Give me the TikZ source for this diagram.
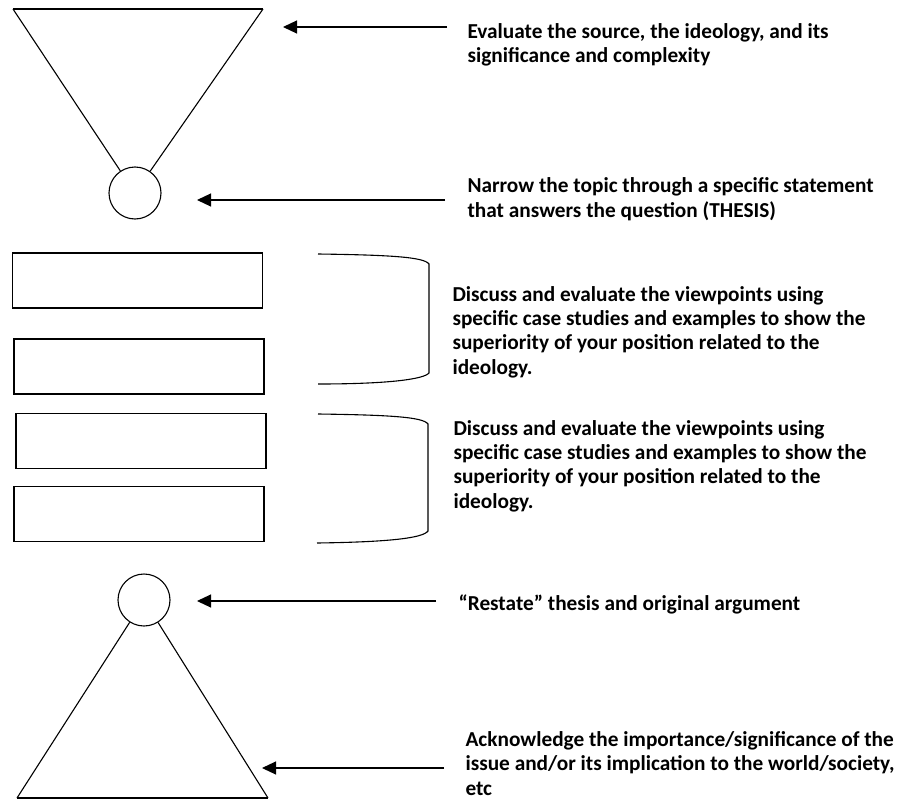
\documentclass[tikz,border=0pt]{standalone}
\usepackage{fontspec}
\setmainfont{Carlito}
\usetikzlibrary{arrows.meta,positioning}

\begin{document}
\begin{tikzpicture}[x=1pt, y=1pt, >={Triangle[length=14pt,width=13pt]}, line width=1.1pt,
  dot/.style={circle, draw, minimum size=52pt, inner sep=0pt},
  panel/.style={draw, minimum width=250pt, minimum height=55pt, inner sep=0pt},
  note/.style={anchor=base west, align=left, inner sep=0pt,
    font=\bfseries\fontsize{21.3}{24.3}\selectfont}]
  \useasboundingbox (0,0) rectangle (905,-800);

  % funnel at the top
  \node[dot] (top) at (135,-193) {};
  \coordinate (tl) at (13,-9);
  \coordinate (tr) at (263,-9);
  \draw (tl) -- (tr);
  \draw (tl) -- (top);
  \draw (tr) -- (top);

  % body paragraphs
  \node[panel] (p1) at (137.5,-280.5) {};
  \node[panel] (p2) at (139,-366.5) {};
  \node[panel] (p3) at (141,-441) {};
  \node[panel] (p4) at (139,-514) {};

  % brackets
  \draw (318,-254) .. controls (390,-255) and (424,-257) .. (429,-264)
    -- (429,-373) .. controls (424,-379) and (390,-384) .. (318,-384);
  \draw (318,-414) .. controls (390,-415) and (423,-417) .. (428,-424)
    -- (428,-531) .. controls (423,-538) and (390,-542) .. (317,-543);

  % pyramid at the bottom
  \node[dot] (bot) at (144,-600) {};
  \coordinate (bl) at (17,-798);
  \coordinate (br) at (268,-798);
  \draw (bl) -- (br);
  \draw (bl) -- (bot);
  \draw (br) -- (bot);

  % notes (anchored on the last line)
  \node[note] (n1) at (467,-63) {Evaluate the source, the ideology, and its\\significance and complexity};
  \node[note] (n2) at (467,-217) {Narrow the topic through a specific statement\\that answers the question (THESIS)};
  \node[note] (n3) at (452,-374) {Discuss and evaluate the viewpoints using\\specific case studies and examples to show the\\superiority of your position related to the\\ideology.};
  \node[note] (n4) at (453,-508) {Discuss and evaluate the viewpoints using\\specific case studies and examples to show the\\superiority of your position related to the\\ideology.};
  \node[note] (n5) at (458,-610) {“Restate” thesis and original argument};
  \node[note] (n6) at (465,-795) {Acknowledge the importance/significance of the\\issue and/or its implication to the world/society,\\etc};

  % arrows
  \coordinate (a1s) at (447,-27);  \coordinate (a1e) at (283,-27);
  \coordinate (a2s) at (445,-200); \coordinate (a2e) at (197,-200);
  \coordinate (a3s) at (436,-601); \coordinate (a3e) at (197,-601);
  \coordinate (a4s) at (444,-768); \coordinate (a4e) at (262,-768);
  \path[->] (a1s) edge (a1e);
  \path[->] (a2s) edge (a2e);
  \path[->] (a3s) edge (a3e);
  \path[->] (a4s) edge (a4e);
\end{tikzpicture}
\end{document}
